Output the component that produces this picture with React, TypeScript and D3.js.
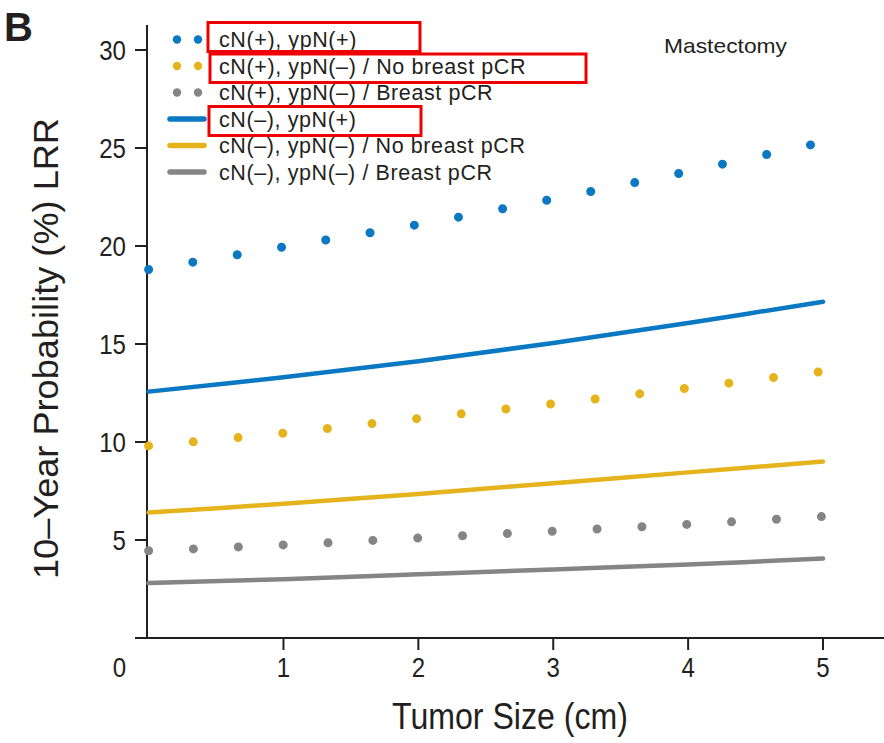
import React from "react";
import * as d3 from "d3";

// Tumor size (cm) at which each curve is specified
const sizes = [0, 1, 2, 3, 4, 5];

// 10-year LRR probability (%) by group
const cnPosYpnPos = [18.8, 19.95, 21.1, 22.4, 23.8, 25.3];
const cnPosYpnNegNoPcr = [9.8, 10.45, 11.2, 11.95, 12.75, 13.6];
const cnPosYpnNegPcr = [4.45, 4.75, 5.1, 5.45, 5.8, 6.2];
const cnNegYpnPos = [12.57, 13.3, 14.12, 15.05, 16.07, 17.16];
const cnNegYpnNegNoPcr = [6.4, 6.85, 7.35, 7.9, 8.45, 9.0];
const cnNegYpnNegPcr = [2.8, 3.0, 3.25, 3.5, 3.75, 4.05];

const seriesNames = [
  "cN(+), ypN(+)",
  "cN(+), ypN(\u2013) / No breast pCR",
  "cN(+), ypN(\u2013) / Breast pCR",
  "cN(\u2013), ypN(+)",
  "cN(\u2013), ypN(\u2013) / No breast pCR",
  "cN(\u2013), ypN(\u2013) / Breast pCR",
];
const seriesValues = [
  cnPosYpnPos,
  cnPosYpnNegNoPcr,
  cnPosYpnNegPcr,
  cnNegYpnPos,
  cnNegYpnNegNoPcr,
  cnNegYpnNegPcr,
];
const seriesColors = ["#0a78c2", "#e5b31c", "#858585", "#0a78c2", "#e5b31c", "#858585"];
const seriesDotted = [true, true, true, false, false, false];

const xTicks = [0, 1, 2, 3, 4, 5];
const yTicks = [0, 5, 10, 15, 20, 25, 30];

const W = 884;
const H = 743;
const axisX = 147;
const axisBottom = 638;
const ink = "#231f20";
const sans = "'Liberation Sans', Arial, sans-serif";

// Red highlight frames around selected legend entries
const frames = [
  { x: 208, y: 22.5, w: 212, h: 29 },
  { x: 210, y: 54, w: 376, h: 28.5 },
  { x: 209, y: 106.5, w: 212, h: 29 },
];

export default function App() {
  const x = d3.scaleLinear().domain([0, 5]).range([148.6, 823]);
  const y = d3.scaleLinear().domain([0, 30]).range([axisBottom, 50]);

  const line = d3
    .line<number>()
    .x((_, i) => x(sizes[i]))
    .y((d) => y(d))
    .curve(d3.curveCatmullRom);

  const legendY0 = 39.5;
  const legendStep = 26.5;
  const textX = 219;

  return (
    <svg
      width={W}
      height={H}
      style={{ position: "absolute", left: 0, top: 0, background: "#fff" }}
    >
      <rect width={W} height={H} fill="#fff" />
      <text x={4} y={41} fontFamily={sans} fontWeight="bold" fontSize={40} fill={ink}>
        B
      </text>

      {/* axes */}
      <line x1={axisX} x2={axisX} y1={25} y2={axisBottom + 1} stroke={ink} strokeWidth={2} />
      <line x1={135} x2={884} y1={axisBottom} y2={axisBottom} stroke={ink} strokeWidth={2} />
      {yTicks.map((t) => (
        <g key={"y" + t}>
          <line x1={135} x2={axisX} y1={y(t)} y2={y(t)} stroke={ink} strokeWidth={2} />
          {t > 0 && (
            <text
              transform={`translate(126,${y(t) + 10}) scale(0.86,1)`}
              textAnchor="end"
              fontFamily={sans}
              fontSize={28}
              fill={ink}
            >
              {t}
            </text>
          )}
        </g>
      ))}
      {xTicks.map((t) => (
        <g key={"x" + t}>
          {t > 0 && (
            <line x1={x(t)} x2={x(t)} y1={axisBottom} y2={axisBottom + 12} stroke={ink} strokeWidth={2} />
          )}
          <text
            transform={`translate(${t === 0 ? 119.5 : x(t)},677) scale(0.86,1)`}
            textAnchor="middle"
            fontFamily={sans}
            fontSize={28}
            fill={ink}
          >
            {t}
          </text>
        </g>
      ))}
      <text
        x={392}
        y={729}
        textLength={236}
        lengthAdjust="spacingAndGlyphs"
        fontFamily={sans}
        fontSize={36}
        fill={ink}
      >
        Tumor Size (cm)
      </text>
      <text
        transform="translate(58,579) rotate(-90)"
        textLength={461}
        lengthAdjust="spacingAndGlyphs"
        fontFamily={sans}
        fontSize={35}
        fill={ink}
      >
        10–Year Probability (%) LRR
      </text>

      {/* curves */}
      {seriesValues.map((vals, i) => (
        <path
          key={"s" + i}
          d={line(vals) || ""}
          fill="none"
          stroke={seriesColors[i]}
          strokeWidth={seriesDotted[i] ? 9 : 4.5}
          strokeLinecap="round"
          strokeDasharray={seriesDotted[i] ? "0 44.9" : undefined}
        />
      ))}

      {/* legend */}
      {seriesNames.map((name, i) => {
        const ly = legendY0 + i * legendStep;
        return (
          <g key={"l" + i}>
            {seriesDotted[i] ? (
              <>
                <circle cx={177} cy={ly} r={4.2} fill={seriesColors[i]} />
                <circle cx={198} cy={ly} r={4.2} fill={seriesColors[i]} />
              </>
            ) : (
              <line
                x1={170}
                x2={204}
                y1={ly}
                y2={ly}
                stroke={seriesColors[i]}
                strokeWidth={5.5}
                strokeLinecap="round"
              />
            )}
            <text
              x={textX}
              y={ly + 7.5}
              fontFamily={sans}
              fontSize={21.5}
              letterSpacing={0.6}
              fill={ink}
            >
              {name}
            </text>
          </g>
        );
      })}
      {frames.map((f, i) => (
        <rect
          key={"f" + i}
          x={f.x}
          y={f.y}
          width={f.w}
          height={f.h}
          fill="none"
          stroke="#ee0000"
          strokeWidth={3}
        />
      ))}
      <text x={664} y={53} fontFamily={sans} fontSize={21} fill={ink} textLength={123} lengthAdjust="spacingAndGlyphs">
        Mastectomy
      </text>
    </svg>
  );
}
